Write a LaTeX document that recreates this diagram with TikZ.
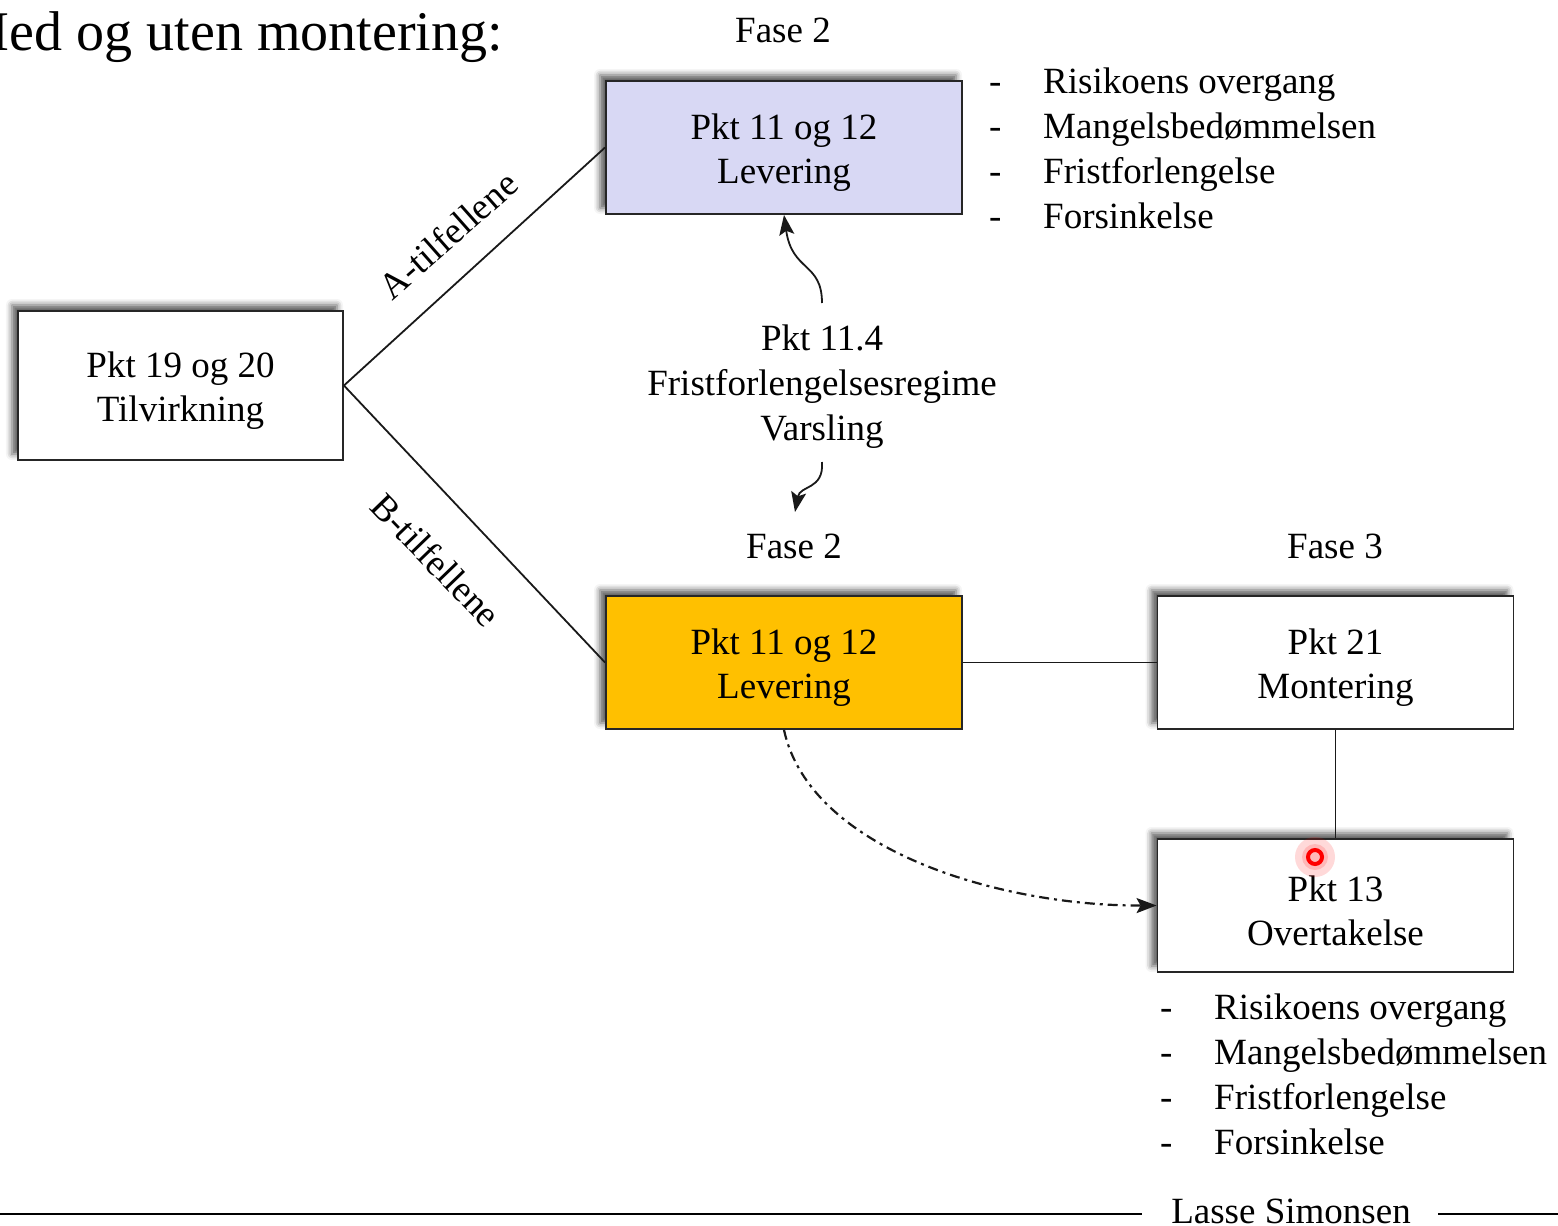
\documentclass[tikz,border=0pt]{standalone}
\usepackage{fontspec}
\setmainfont{Liberation Serif}
\usetikzlibrary{arrows.meta,shadows.blur}
\definecolor{lav}{RGB}{216,216,244}
\definecolor{gold}{RGB}{255,192,0}
\newcommand{\upstrut}{\rule{0pt}{36pt}}
\begin{document}
\begin{tikzpicture}[x=1pt,y=-1pt,
 box/.style={draw=black!85, line width=1.9pt, minimum width=356pt, minimum height=133pt, inner sep=0pt, align=center,
   font=\fontsize{37}{44}\selectfont,
   blur shadow={shadow xshift=-6pt, shadow yshift=6pt, shadow blur radius=6pt, shadow opacity=65}},
 lbl/.style={font=\fontsize{37}{45}\selectfont, inner sep=0pt},
 conn/.style={line width=1.8pt, black!90},
 arrowtip/.style={-{Stealth[length=20pt,width=15pt,inset=4pt]}}
]
\useasboundingbox (0,0) rectangle (1558,1226);
\clip (0,0) rectangle (1558,1226);

% title
\node[anchor=base east, font=\fontsize{56}{60}\selectfont, inner sep=0pt] (title) at (503,50) {Med og uten montering:};

% boxes
\node[box, minimum width=325pt, minimum height=149pt, fill=white] (tilv) at (180.5,385.5) {\upstrut Pkt 19 og 20\\Tilvirkning};
\node[box, fill=lav] (levA) at (784,147.5) {\upstrut Pkt 11 og 12\\Levering};
\node[box, fill=gold] (levB) at (784,662.5) {\upstrut Pkt 11 og 12\\Levering};
\node[box, fill=white] (mont) at (1335.5,662.5) {\upstrut Pkt 21\\Montering};
\node[box, fill=white] (over) at (1335.5,905.5) {\upstrut Pkt 13\\Overtakelse};

% phase labels
\node[lbl, anchor=base] (f2a) at (783,42) {Fase 2};
\node[lbl, anchor=base] (f2b) at (794,558) {Fase 2};
\node[lbl, anchor=base] (f3) at (1335,558) {Fase 3};

% connectors
\draw[conn] (tilv.east) -- (levA.west);
\draw[conn] (tilv.east) -- (levB.west);
\draw[conn] (levB.east) -- (mont.west);
\draw[conn] (mont.south) -- (over.north);
\draw[conn, line width=2.2pt, arrowtip, dash pattern=on 10pt off 5pt on 3pt off 5pt] (levB.south) .. controls (810,850) and (1000,906) .. (over.west);

% branch labels
\node[lbl, rotate=41.5] (atf) at (448,235) {A-tilfellene};
\node[lbl, rotate=-46] (btf) at (436,560) {B-tilfellene};

% middle text and curved arrows
\node[lbl, align=center] (mid) at (822,387) {Pkt 11.4\\Fristforlengelsesregime\\Varsling};
\coordinate (m1) at (822,303);
\coordinate (m2) at (822,462);
\coordinate (m3) at (795,512);
\draw[conn, arrowtip] (m1) .. controls (822,262) and (792,272) .. (levA.south);
\draw[conn, arrowtip] (m2) .. controls (824,490) and (800,485) .. (m3);

% lists
\foreach \t [count=\i] in {Risikoens overgang, Mangelsbedømmelsen, Fristforlengelse, Forsinkelse} {
  \node[lbl, anchor=base west] (da\i) at (989, 48+45*\i) {-};
  \node[lbl, anchor=base west] (la\i) at (1043, 48+45*\i) {\t};
  \node[lbl, anchor=base west] (db\i) at (1160, 974+45*\i) {-};
  \node[lbl, anchor=base west] (lb\i) at (1214, 974+45*\i) {\t};
}

% red pointer
\fill[red, opacity=0.15] (1315,857) circle (20);
\fill[red, opacity=0.15] (1315,857) circle (13);
\draw[red, line width=4pt] (1315,857) circle (7);

% footer
\node[lbl, anchor=base] (author) at (1291,1223) {Lasse Simonsen};
\coordinate (fl1) at (0,1214);
\coordinate (fl2) at (1142,1214);
\coordinate (fr1) at (1438,1214);
\coordinate (fr2) at (1558,1214);
\draw[line width=1.6pt] (fl1) -- (fl2);
\draw[line width=1.6pt] (fr1) -- (fr2);
\end{tikzpicture}
\end{document}
